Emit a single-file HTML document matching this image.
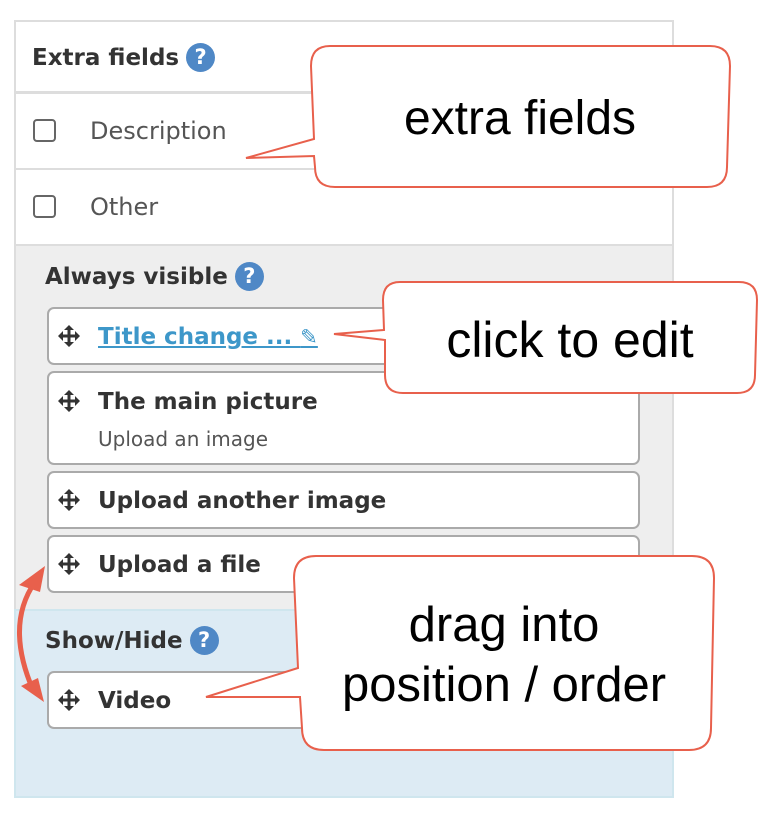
<!DOCTYPE html>
<html><head><meta charset="utf-8"><style>
body{margin:0;width:774px;height:820px;background:#fff;position:relative;overflow:hidden;font-family:"DejaVu Sans","Liberation Sans",sans-serif}
.a{position:absolute}
.t{font-weight:bold;color:#333;font-size:23px;white-space:nowrap}
.card{position:absolute;left:47px;width:593px;background:#fff;border:2px solid #aaa;border-radius:7px;box-sizing:border-box}
.q{display:inline-block;width:29px;height:29px;border-radius:50%;background:#4f88c6;color:#fff;font-size:21px;text-align:center;line-height:29px;font-weight:bold;vertical-align:1px;margin-left:7px}
.cb{position:absolute;left:33px;width:23px;height:23px;border:2px solid #666;border-radius:4px;box-sizing:border-box}
.lbl{position:absolute;left:90px;font-size:24px;color:#555}
</style></head><body>
<div class="a" style="left:14px;top:20px;width:660px;height:778px;border:2px solid #ddd;box-sizing:border-box;background:#fff"></div>
<div class="a" style="left:16px;top:91px;width:656px;height:3px;background:#ddd"></div>
<div class="a" style="left:16px;top:168px;width:656px;height:2px;background:#ddd"></div>
<div class="a" style="left:16px;top:244px;width:656px;height:365px;background:#eee;border-top:2px solid #ddd"></div>
<div class="a" style="left:14px;top:609px;width:660px;height:189px;background:#ddebf4;border:2px solid #cfe6ee;box-sizing:border-box"></div>

<div class="a t" style="left:32px;top:43px">Extra fields<span class="q">?</span></div>
<div class="cb" style="top:119px"></div><div class="lbl" style="top:117px">Description</div>
<div class="cb" style="top:195px"></div><div class="lbl" style="top:193px">Other</div>
<div class="a t" style="left:45px;top:262px">Always visible<span class="q">?</span></div>
<div class="a t" style="left:45px;top:626px">Show/Hide<span class="q">?</span></div>

<svg width="0" height="0" style="position:absolute"><defs><g id="mv"><path d="M12 1 L17 6 H13.5 V10.5 H18 V7 L23 12 L18 17 V13.5 H13.5 V18 H17 L12 23 L7 18 H10.5 V13.5 H6 V17 L1 12 L6 7 V10.5 H10.5 V6 H7 Z" fill="#333"/></g></defs></svg>

<div class="card" style="top:307px;height:58px"></div>
<svg class="a" style="left:57px;top:324px" width="24" height="24"><use href="#mv"/></svg>
<div class="a t" style="left:98px;top:324px;color:#3d97c9;text-decoration:underline">Title change ... <span style="font-size:21px">✎</span></div>

<div class="card" style="top:371px;height:94px"></div>
<svg class="a" style="left:57px;top:389px" width="24" height="24"><use href="#mv"/></svg>
<div class="a t" style="left:98px;top:389px">The main picture</div>
<div class="a" style="left:98px;top:427px;font-size:20px;color:#555">Upload an image</div>

<div class="card" style="top:471px;height:58px"></div>
<svg class="a" style="left:57px;top:488px" width="24" height="24"><use href="#mv"/></svg>
<div class="a t" style="left:98px;top:488px">Upload another image</div>

<div class="card" style="top:535px;height:58px"></div>
<svg class="a" style="left:57px;top:552px" width="24" height="24"><use href="#mv"/></svg>
<div class="a t" style="left:98px;top:552px">Upload a file</div>

<div class="card" style="top:671px;height:58px"></div>
<svg class="a" style="left:57px;top:688px" width="24" height="24"><use href="#mv"/></svg>
<div class="a t" style="left:98px;top:688px">Video</div>

<svg class="a" style="left:0;top:0" width="774" height="820">
<g fill="#fff" stroke="#e8604c" stroke-width="2">
<path d="M330 46 H710 Q730 46 730 66 L727 167 Q727 187 707 187 H335 Q315 187 315 167 L314 156 L246 158 L314 139 L311 66 Q311 46 330 46 Z"/>
<path d="M400 282 H739 Q757 282 757 300 L755 375 Q755 393 737 393 H403 Q385 393 385 375 L385 340 L334 334 L384 330 L383 300 Q383 282 400 282 Z"/>
<path d="M316 556 H692 Q714 556 714 578 L711 728 Q711 750 689 750 H324 Q302 750 302 728 L300 697 L206 697 L298 668 L294 578 Q294 556 316 556 Z"/>
</g>
<path d="M35 582 Q5 625 33 690" fill="none" stroke="#e8604c" stroke-width="5"/>
<polygon points="45,566 19,585 40,592" fill="#e8604c"/>
<polygon points="44,702 21,686 38,678" fill="#e8604c"/>
<g font-family="Liberation Sans, sans-serif" fill="#000" text-anchor="middle">
<text x="520" y="134" font-size="48">extra fields</text>
<text x="570" y="357" font-size="50">click to edit</text>
<text x="504" y="641" font-size="49">drag into</text>
<text x="504" y="701" font-size="49">position / order</text>
</g>
</svg>
</body></html>
